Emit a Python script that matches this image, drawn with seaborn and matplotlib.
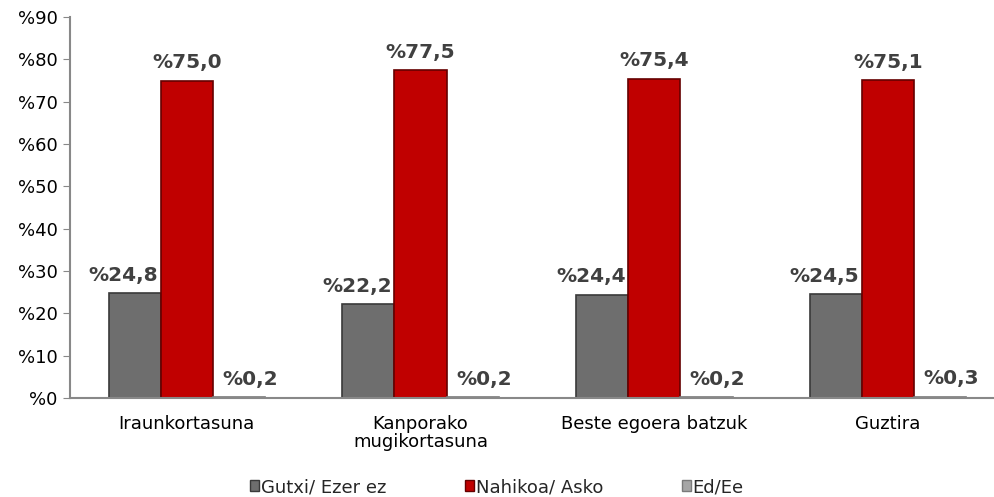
import numpy as np
import pandas as pd
import seaborn as sns
from matplotlib import pyplot as plt
from matplotlib.patches import Patch

# values
categories = ["Iraunkortasuna", "Kanporako\nmugikortasuna", "Beste egoera batzuk", "Guztira"]
series = ["Gutxi/ Ezer ez", "Nahikoa/ Asko", "Ed/Ee"]
gutxi = [24.8, 22.2, 24.4, 24.5]
nahikoa = [75.0, 77.5, 75.4, 75.1]
ed_ee = [0.2, 0.2, 0.2, 0.3]
colors = ["#6e6e6e", "#c00000", "#a6a6a6"]
edges = ["#3a3a3a", "#650000", "#7a7a7a"]
label_shift = [-8, 0, 8]  # points, to keep labels clear of neighbours

df = pd.DataFrame({
    "cat": categories * 3,
    "serie": [series[0]] * 4 + [series[1]] * 4 + [series[2]] * 4,
    "val": gutxi + nahikoa + ed_ee,
})

sns.set_style("white")
plt.rcParams['font.family'] = ['DejaVu Sans']

fig = plt.figure(figsize=(9.94, 4.97), dpi=100)
ax = fig.add_axes([70 / 994, 1 - 398 / 497, 924 / 994, (398 - 17) / 497])

sns.barplot(data=df, x="cat", y="val", hue="serie", hue_order=series,
            order=categories, palette=colors, saturation=1, width=0.67,
            ax=ax, legend=False)

# darker outline on each bar, per series
for container, ec in zip(ax.containers, edges):
    for bar in container:
        bar.set_edgecolor(ec)
        bar.set_linewidth(1.2)

# value labels
for container, dx in zip(ax.containers, label_shift):
    for bar in container:
        h = bar.get_height()
        txt = "%" + f"{h:.1f}".replace(".", ",")
        ax.annotate(txt, (bar.get_x() + bar.get_width() / 2, h),
                    xytext=(dx, 6), textcoords="offset points",
                    ha="center", va="bottom", fontsize=14.5,
                    fontweight="bold", color="#404040")

ax.set_ylim(0, 90)
ax.set_yticks(np.arange(0, 91, 10))
ax.set_yticklabels(["%" + str(v) for v in range(0, 91, 10)], fontsize=13, color="black")
ax.set_xlim(-0.5, -0.5 + 924 / 233.7)
ax.set_xticks(range(4))
ax.set_xticklabels(categories, fontsize=13, linespacing=1.0, color="black")
ax.set_xticks([0.5, 1.5, 2.5], minor=True)
ax.tick_params(axis="x", which="major", length=0, pad=12)
ax.tick_params(axis="x", which="minor", length=5, color="#888888", direction="out")
ax.tick_params(axis="y", length=5, color="#888888", direction="out", pad=4, left=True)
ax.set_xlabel("")
ax.set_ylabel("")

sns.despine(ax=ax)
for s in ["left", "bottom"]:
    ax.spines[s].set_color("#888888")
    ax.spines[s].set_linewidth(1.5)

handles = [Patch(facecolor=c, edgecolor=e) for c, e in zip(colors, edges)]
fig.legend(handles, series, loc="center", bbox_to_anchor=(0.5, 1 - 487 / 497),
           ncol=3, frameon=False, fontsize=13, handlelength=0.5, handleheight=0.5,
           handletextpad=0.1, columnspacing=4.35)

plt.savefig("out.png", dpi=100)
